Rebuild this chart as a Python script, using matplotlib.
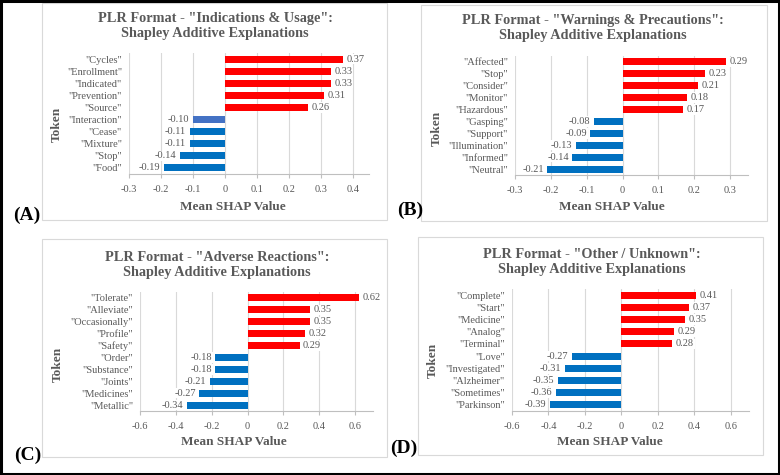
import matplotlib
matplotlib.use("Agg")
import matplotlib.pyplot as plt
from matplotlib.patches import Rectangle

plt.rcParams['font.family'] = ['Liberation Serif', 'DejaVu Serif']

W, H = 780, 475
GRAY = '#595959'
RED = '#FF0000'
BLUE = '#0070C0'
BLUE2 = '#4472C4'

# panel data (top to bottom)
tokens_a = ['"Cycles"', '"Enrollment"', '"Indicated"', '"Prevention"', '"Source"',
            '"Interaction"', '"Cease"', '"Mixture"', '"Stop"', '"Food"']
values_a = [0.37, 0.33, 0.33, 0.31, 0.26, -0.10, -0.11, -0.11, -0.14, -0.19]

tokens_b = ['"Affected"', '"Stop"', '"Consider"', '"Monitor"', '"Hazardous"',
            '"Gasping"', '"Support"', '"Illumination"', '"Informed"', '"Neutral"']
values_b = [0.29, 0.23, 0.21, 0.18, 0.17, -0.08, -0.09, -0.13, -0.14, -0.21]

tokens_c = ['"Tolerate"', '"Alleviate"', '"Occasionally"', '"Profile"', '"Safety"',
            '"Order"', '"Substance"', '"Joints"', '"Medicines"', '"Metallic"']
values_c = [0.62, 0.35, 0.35, 0.32, 0.29, -0.18, -0.18, -0.21, -0.27, -0.34]

tokens_d = ['"Complete"', '"Start"', '"Medicine"', '"Analog"', '"Terminal"',
            '"Love"', '"Investigated"', '"Alzheimer"', '"Sometimes"', '"Parkinson"']
values_d = [0.41, 0.37, 0.35, 0.29, 0.28, -0.27, -0.31, -0.35, -0.36, -0.39]

titles = ['PLR Format - "Indications & Usage":\nShapley Additive Explanations',
          'PLR Format - "Warnings & Precautions":\nShapley Additive Explanations',
          'PLR Format - "Adverse Reactions":\nShapley Additive Explanations',
          'PLR Format - "Other / Unknown":\nShapley Additive Explanations']
letters = ['(A)', '(B)', '(C)', '(D)']

ticks_a = [-0.3, -0.2, -0.1, 0, 0.1, 0.2, 0.3, 0.4]
ticks_b = [-0.3, -0.2, -0.1, 0, 0.1, 0.2, 0.3]
ticks_cd = [-0.6, -0.4, -0.2, 0, 0.2, 0.4, 0.6]

# layout in pixels: box(x0,y0,x1,y1), axes(x0,y0,x1,y1), xlim, title xy, xlabel xy, ylabel xy, letter xy
panels = [
    dict(tok=tokens_a, val=values_a, ticks=ticks_a, xlim=(-0.3, 0.45),
         box=(42, 3, 387, 220), ax=(129, 53, 369, 174),
         title=(215, 26), xl=(233, 207), yl=(57, 124), let=(27, 215)),
    dict(tok=tokens_b, val=values_b, ticks=ticks_b, xlim=(-0.3, 0.35),
         box=(421, 5, 767, 221), ax=(515, 56, 748, 175),
         title=(593, 28), xl=(612, 207), yl=(437, 128), let=(410, 210)),
    dict(tok=tokens_c, val=values_c, ticks=ticks_cd, xlim=(-0.6, 0.7),
         box=(42, 239, 387, 457), ax=(140, 292, 373, 411),
         title=(217, 265), xl=(234, 442), yl=(58, 364), let=(28, 455)),
    dict(tok=tokens_d, val=values_d, ticks=ticks_cd, xlim=(-0.6, 0.7),
         box=(418, 237, 763, 455), ax=(512, 289, 749, 411),
         title=(592, 262), xl=(610, 442), yl=(433, 360), let=(404, 448)),
]

fig = plt.figure(figsize=(W / 100, H / 100), dpi=100)


def fx(x):
    return x / W


def fy(y):
    return 1 - y / H


for i, p in enumerate(panels):
    bx0, by0, bx1, by1 = p['box']
    fig.patches.append(Rectangle((fx(bx0), fy(by1)), fx(bx1 - bx0), (by1 - by0) / H,
                                 transform=fig.transFigure, facecolor='white',
                                 edgecolor='#D9D9D9', linewidth=0.8, zorder=-5))
    ax0, ay0, ax1, ay1 = p['ax']
    ax = fig.add_axes([fx(ax0), fy(ay1), fx(ax1 - ax0), (ay1 - ay0) / H])
    ax.set_facecolor('none')
    n = len(p['tok'])
    ypos = list(range(n))[::-1]
    colors = [RED if v > 0 else BLUE for v in p['val']]
    if i == 0:
        colors[5] = BLUE2
    ax.barh(ypos, p['val'], height=0.58, color=colors, zorder=2)
    ax.set_ylim(-0.5, n - 0.5)
    ax.set_xlim(*p['xlim'])
    ax.set_xticks(p['ticks'])
    ax.set_xticklabels(['0' if t == 0 else f'{t:g}' for t in p['ticks']])
    ax.set_yticks(ypos)
    ax.set_yticklabels(p['tok'])
    ax.tick_params(axis='y', length=0, pad=5, labelsize=7.5, labelcolor=GRAY)
    ax.tick_params(axis='x', length=3, width=0.8, color='#BFBFBF', pad=5,
                   labelsize=7.5, labelcolor=GRAY)
    for s in ['top', 'right', 'left']:
        ax.spines[s].set_visible(False)
    ax.spines['bottom'].set_color('#BFBFBF')
    ax.spines['bottom'].set_zorder(1)
    ax.grid(axis='x', color='#D9D9D9', linewidth=0.8, zorder=0)
    ax.set_axisbelow(True)
    span = p['xlim'][1] - p['xlim'][0]
    for y, v in zip(ypos, p['val']):
        off = span * 0.015
        ax.text(v + (off if v > 0 else -off), y, f'{v:.2f}', va='center',
                ha='left' if v > 0 else 'right', fontsize=7.5, color=GRAY, zorder=4,
                bbox=dict(facecolor='white', edgecolor='none', pad=0.5))

    fig.text(fx(p['title'][0]), fy(p['title'][1]), titles[i], ha='center', va='center',
             fontsize=10.3, fontweight='bold', color=GRAY, linespacing=1.15)
    fig.text(fx(p['xl'][0]), fy(p['xl'][1]), 'Mean SHAP Value', ha='center', va='center',
             fontsize=9.5, fontweight='bold', color=GRAY)
    fig.text(fx(p['yl'][0]), fy(p['yl'][1]), 'Token', ha='center', va='center',
             rotation=90, fontsize=9.5, fontweight='bold', color=GRAY)
    fig.text(fx(p['let'][0]), fy(p['let'][1]), letters[i], ha='center', va='center',
             fontsize=14, fontweight='bold', color='black')

# outer black frame
fig.patches.append(Rectangle((0.0015, 0.0025), 0.997, 0.995, transform=fig.transFigure,
                             facecolor='none', edgecolor='black', linewidth=2.2, zorder=10))

fig.savefig('out.png', dpi=100)
